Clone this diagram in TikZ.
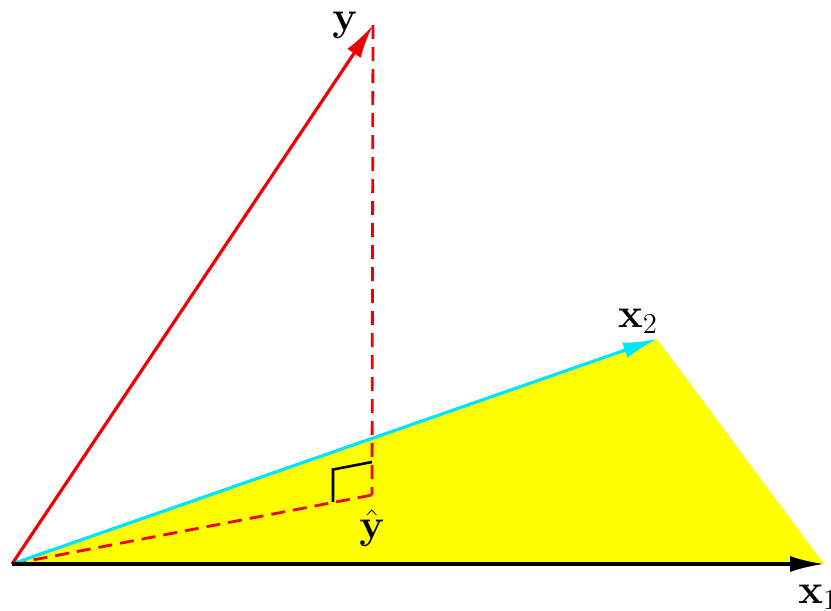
\documentclass[tikz,border=0pt]{standalone}
\usetikzlibrary{arrows.meta}
\definecolor{pyellow}{rgb}{1,1,0}
\definecolor{pcyan}{rgb}{0,0.9,1}
\definecolor{pred}{rgb}{0.95,0,0}
\begin{document}
\begin{tikzpicture}[x=0.5pt,y=-0.5pt,
  lbl/.style={inner sep=0pt,font=\fontsize{21}{25}\selectfont},
  vec/.style={line width=1.6pt,-{Latex[length=17pt,width=8pt]}},
  dsh/.style={line width=1.4pt,pred,dash pattern=on 7pt off 4pt}]
\useasboundingbox (0,0) rectangle (831,611);
\coordinate (O) at (12,564);
\coordinate (X1) at (824,564);
\coordinate (X2) at (657,339);
\coordinate (Y) at (373,25);
\coordinate (Yh) at (372,495);
\fill[pyellow] (O) -- (X2) -- (X1) -- cycle;
\draw[dsh] (Y) -- (Yh);
\draw[dsh] (O) -- (Yh);
\draw[line width=1.3pt] (333,502) -- (333,469.5) -- (372,462);
\draw[vec,pcyan] (O) -- (X2);
\draw[vec,pred] (O) -- (Y);
\draw[vec,black] (O) -- (X1);
\node[lbl] (ly) at (345,25) {$\mathbf{y}$};
\node[lbl] (lx2) at (638,321) {$\mathbf{x}_2$};
\node[lbl] (lyh) at (372,528) {$\hat{\mathbf{y}}$};
\node[lbl,anchor=west] (lx1) at (798,597) {$\mathbf{x}_1$};
\end{tikzpicture}
\end{document}
